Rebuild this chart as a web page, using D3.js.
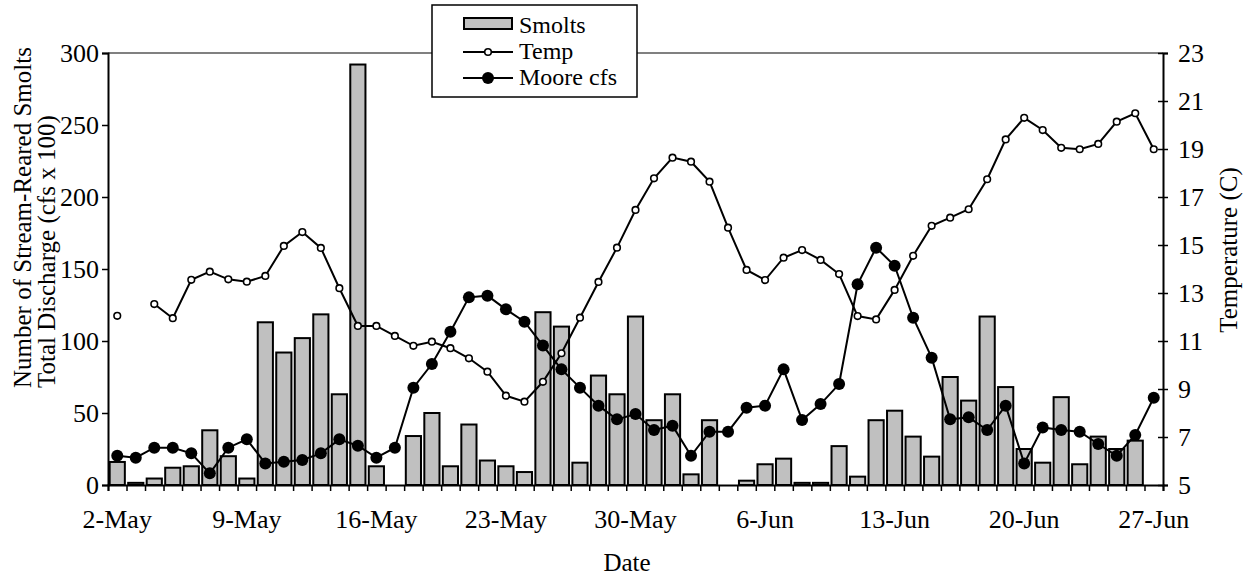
<!DOCTYPE html>
<html>
<head>
<meta charset="utf-8">
<script src="https://cdn.jsdelivr.net/npm/d3@7"></script>
<style>
  body { margin: 0; background: #fff; }
</style>
</head>
<body>
<script>
// one category per day, 2-May .. 27-Jun
const days = ["2-May","3-May","4-May","5-May","6-May","7-May","8-May","9-May","10-May","11-May",
  "12-May","13-May","14-May","15-May","16-May","17-May","18-May","19-May","20-May","21-May",
  "22-May","23-May","24-May","25-May","26-May","27-May","28-May","29-May","30-May","31-May",
  "1-Jun","2-Jun","3-Jun","4-Jun","5-Jun","6-Jun","7-Jun","8-Jun","9-Jun","10-Jun",
  "11-Jun","12-Jun","13-Jun","14-Jun","15-Jun","16-Jun","17-Jun","18-Jun","19-Jun","20-Jun",
  "21-Jun","22-Jun","23-Jun","24-Jun","25-Jun","26-Jun","27-Jun"];

const dayLabels = ["2-May","9-May","16-May","23-May","30-May","6-Jun","13-Jun","20-Jun","27-Jun"];

const smolts = [16, 1.5, 4.5, 12, 13, 38, 20, 4.5, 113, 92,
  102, 118.5, 63, 292, 13, null, 34, 50, 13, 42,
  17, 13, 9, 120, 110, 15.5, 76, 63, 117, 45,
  63, 7.4, 45, null, 3, 14.4, 18.3, 1.5, 1.5, 27,
  5.8, 45, 51.6, 33.6, 19.7, 75, 58.6, 117, 68, 25,
  15.5, 61, 14.4, 33.6, 25, 30.8, null];

const temp = [12.05, null, 12.54, 11.95, 13.55, 13.89, 13.57, 13.47, 13.71, 14.96,
  15.54, 14.88, 13.2, 11.63, 11.63, 11.21, 10.8, 10.97, 10.7, 10.28,
  9.72, 8.72, 8.47, 9.3, 10.49, 11.97, 13.46, 14.89, 16.46, 17.78,
  18.64, 18.47, 17.64, 15.72, 13.96, 13.54, 14.47, 14.79, 14.38, 13.79,
  12.04, 11.9, 13.13, 14.55, 15.8, 16.14, 16.49, 17.74, 19.4, 20.3,
  19.79, 19.05, 18.99, 19.21, 20.14, 20.49, 18.99];

const mooreCfs = [20.3, 19, 25.9, 25.9, 22, 8.1, 25.9, 31.7, 15, 16.2,
  17.4, 22, 31.7, 27.3, 19, 25.9, 67.6, 84, 106.5, 130.3,
  131.5, 122, 113.4, 96.8, 80.3, 67.6, 55.1, 45.6, 49.3, 38.2,
  41.2, 20.3, 37, 37, 53.7, 55.1, 80.3, 45.1, 56.2, 70.1,
  139.4, 164.8, 152.3, 116.2, 88.4, 45.6, 47, 38.2, 55.1, 15,
  40, 38.2, 37, 28.5, 20.3, 34.7, 60.6];

const leftTicks = [0, 50, 100, 150, 200, 250, 300];
const rightTicks = [5, 7, 9, 11, 13, 15, 17, 19, 21, 23];

const width = 1253, height = 581;
const plotL = 108, plotR = 1163, plotT = 53, plotB = 485;
const serif = "'Liberation Serif', 'Times New Roman', Tinos, 'DejaVu Serif', serif";

const svg = d3.select("body").append("svg")
    .attr("width", width)
    .attr("height", height)
    .attr("font-family", serif);

const x = d3.scaleBand()
    .domain(days)
    .range([plotL, plotR])
    .paddingInner(0.18)
    .paddingOuter(0.09);
const xEdge = d3.scaleLinear().domain([0, days.length]).range([plotL, plotR]);
const yL = d3.scaleLinear().domain([0, 300]).range([plotB, plotT]);
const yR = d3.scaleLinear().domain([5, 23]).range([plotB, plotT]);
const cx = (d, i) => x(days[i]) + x.bandwidth() / 2;

// grey top frame line
svg.append("line")
    .attr("x1", plotL).attr("x2", plotR)
    .attr("y1", plotT).attr("y2", plotT)
    .attr("stroke", "#808080").attr("stroke-width", 2);

// bars
svg.append("g").selectAll("rect")
    .data(smolts.map((v, i) => ({v: v, day: days[i]})).filter(d => d.v != null))
    .enter().append("rect")
        .attr("x", d => x(d.day))
        .attr("y", d => yL(d.v))
        .attr("width", x.bandwidth())
        .attr("height", d => yL(0) - yL(d.v))
        .attr("fill", "#c0c0c0")
        .attr("stroke", "#000")
        .attr("stroke-width", 2);

// Moore cfs
const flowLine = d3.line().x(cx).y(d => yL(d));
svg.append("path")
    .attr("d", flowLine(mooreCfs))
    .attr("fill", "none").attr("stroke", "#000").attr("stroke-width", 2);
svg.append("g").selectAll("circle")
    .data(mooreCfs)
    .enter().append("circle")
        .attr("cx", cx)
        .attr("cy", d => yL(d))
        .attr("r", 6)
        .attr("fill", "#000");

// Temp
const tempLine = d3.line().defined(d => d != null).x(cx).y(d => yR(d));
svg.append("path")
    .attr("d", tempLine(temp))
    .attr("fill", "none").attr("stroke", "#000").attr("stroke-width", 2);
svg.append("g").selectAll("circle")
    .data(temp.map((v, i) => ({v: v, i: i})).filter(d => d.v != null))
    .enter().append("circle")
        .attr("cx", d => cx(d.v, d.i))
        .attr("cy", d => yR(d.v))
        .attr("r", 3.3)
        .attr("fill", "#fff")
        .attr("stroke", "#000")
        .attr("stroke-width", 1.6);

// left axis
const gL = svg.append("g")
    .attr("transform", `translate(${plotL},0)`)
    .call(d3.axisLeft(yL).tickValues(leftTicks).tickSize(6).tickPadding(3));
// right axis, ticks cross the line
const gR = svg.append("g")
    .attr("transform", `translate(${plotR},0)`)
    .call(d3.axisRight(yR).tickValues(rightTicks).tickSize(5).tickPadding(10));
gR.selectAll(".tick line").attr("x1", -5);
// bottom axis: tick marks between days, labels every week
const gB = svg.append("g")
    .attr("transform", `translate(0,${plotB})`)
    .call(d3.axisBottom(xEdge).tickValues(d3.range(days.length + 1)).tickSize(6).tickFormat(""));
const gBL = svg.append("g")
    .attr("transform", `translate(0,${plotB})`)
    .call(d3.axisBottom(x).tickValues(dayLabels).tickSize(0).tickPadding(25));
gBL.select(".domain").remove();

[gL, gR, gB, gBL].forEach(g => {
    g.attr("font-family", serif).attr("font-size", 26);
    g.select(".domain").attr("stroke", "#000").attr("stroke-width", 2);
    g.selectAll(".tick line").attr("stroke", "#000").attr("stroke-width", 1.5);
    g.selectAll("text").attr("fill", "#000");
});

// axis titles
svg.append("text")
    .attr("transform", "translate(31,388) rotate(-90)")
    .attr("font-size", 25)
    .text("Number of Stream-Reared Smolts");
svg.append("text")
    .attr("transform", "translate(55,388) rotate(-90)")
    .attr("font-size", 25)
    .text("Total Discharge (cfs x 100)");
svg.append("text")
    .attr("transform", "translate(1237,250) rotate(-90)")
    .attr("text-anchor", "middle")
    .attr("font-size", 25)
    .text("Temperature (C)");
svg.append("text")
    .attr("x", 627).attr("y", 571)
    .attr("text-anchor", "middle")
    .attr("font-size", 25)
    .text("Date");

// legend
const lg = svg.append("g");
lg.append("rect")
    .attr("x", 432).attr("y", 5)
    .attr("width", 205).attr("height", 92)
    .attr("fill", "#fff").attr("stroke", "#000").attr("stroke-width", 1.5);
lg.append("rect")
    .attr("x", 464).attr("y", 18).attr("width", 48).attr("height", 11)
    .attr("fill", "#c0c0c0").attr("stroke", "#000").attr("stroke-width", 2);
lg.append("line").attr("x1", 463).attr("x2", 513).attr("y1", 52).attr("y2", 52)
    .attr("stroke", "#000").attr("stroke-width", 2);
lg.append("circle").attr("cx", 488).attr("cy", 52).attr("r", 3.3)
    .attr("fill", "#fff").attr("stroke", "#000").attr("stroke-width", 1.6);
lg.append("line").attr("x1", 463).attr("x2", 513).attr("y1", 78).attr("y2", 78)
    .attr("stroke", "#000").attr("stroke-width", 2);
lg.append("circle").attr("cx", 488).attr("cy", 78).attr("r", 6).attr("fill", "#000");
[["Smolts", 33], ["Temp", 59], ["Moore cfs", 85]].forEach(t => {
    lg.append("text").attr("x", 519).attr("y", t[1])
        .attr("font-size", 24).text(t[0]);
});
</script>
</body>
</html>
